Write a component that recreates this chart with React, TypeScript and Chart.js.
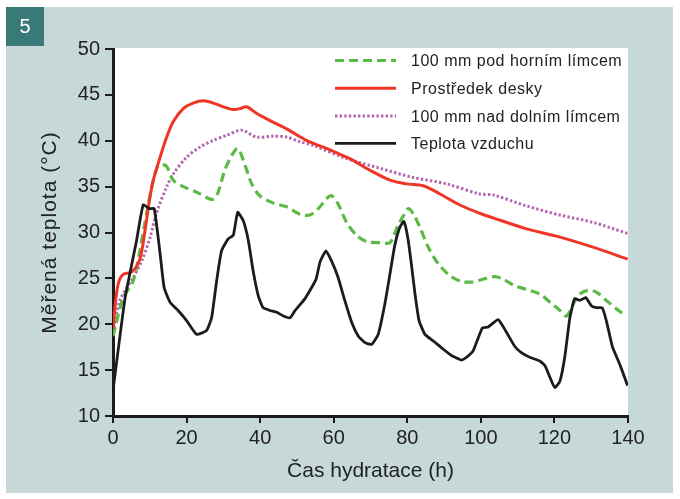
import React, { useEffect, useRef } from "react";
import { Chart, registerables } from "chart.js";

Chart.register(...registerables);

const FONT = '"Liberation Sans", Arial, Helvetica, sans-serif';

// Legend / series labels
const seriesLabels = [
  "100 mm pod horním límcem",
  "Prostředek desky",
  "100 mm nad dolním límcem",
  "Teplota vzduchu",
];

const xTitle = "Čas hydratace (h)";
const yTitle = "Měřená teplota (°C)";
const panelNumber = "5";

// 100 mm pod horním límcem (green dashed)
const greenHours = [0, 2.8, 5.5, 7.3, 9.1, 10.5, 11.9, 13.2, 14.6, 16.4, 19.1, 22.7, 26.8, 28.2, 30.4, 32.3, 33.9, 35.4, 37.7, 39.9, 43.6, 47.2, 50.8, 53.5, 55.8, 58.1, 59.4, 61.2, 63.5, 66.2, 68.9, 72.6, 75.3, 77.5, 79.3, 80.3, 81.6, 83.4, 85.7, 88.4, 91.6, 94.8, 97.5, 99.7, 103.8, 106.1, 109.2, 112.4, 116.0, 118.8, 121.5, 123.3, 125.1, 126.9, 129.2, 131.4, 134.1, 136.8, 139.5];
const greenTemps = [18.7, 22.9, 24.75, 28.0, 32.0, 34.9, 37.0, 37.4, 37.2, 35.7, 35.0, 34.4, 33.6, 34.0, 36.8, 38.4, 39.15, 37.9, 35.3, 34.0, 33.2, 32.8, 32.0, 31.9, 32.6, 33.7, 34.0, 33.1, 31.1, 29.7, 29.0, 28.9, 28.9, 30.8, 32.05, 32.6, 32.05, 30.6, 28.4, 26.6, 25.3, 24.65, 24.6, 24.8, 25.2, 24.9, 24.2, 23.8, 23.3, 22.4, 21.5, 20.9, 22.2, 23.3, 23.7, 23.5, 22.6, 21.7, 20.9];

// Prostředek desky (red)
const redHours = [0, 1.2, 2.6, 5.1, 7.3, 8.7, 9.9, 10.9, 12.8, 14.6, 16.4, 19.1, 21.8, 24.5, 27.3, 30.0, 32.7, 34.5, 36.3, 39.0, 42.7, 47.2, 52.6, 59.0, 64.4, 69.8, 75.3, 79.8, 84.3, 88.9, 94.3, 99.7, 103.3, 112.4, 121.5, 130.5, 139.9];
const redTemps = [19.5, 24.0, 25.4, 25.7, 27.1, 30.2, 33.5, 35.6, 38.2, 40.4, 42.1, 43.5, 44.1, 44.35, 44.1, 43.7, 43.4, 43.5, 43.7, 43.0, 42.2, 41.3, 40.05, 39.0, 38.05, 36.8, 35.7, 35.3, 35.1, 34.2, 33.0, 32.1, 31.6, 30.4, 29.5, 28.4, 27.1];

// 100 mm nad dolním límcem (purple dotted)
const purpleHours = [0, 1.9, 5.5, 7.8, 10.1, 11.9, 14.6, 16.4, 20.0, 23.6, 27.3, 30.9, 35.0, 39.0, 43.6, 47.2, 50.8, 54.4, 63.5, 72.6, 81.6, 90.7, 99.7, 103.3, 112.4, 121.5, 130.5, 139.9];
const purpleTemps = [19.1, 22.6, 25.1, 26.9, 29.5, 32.2, 35.0, 36.4, 38.2, 39.3, 40.05, 40.6, 41.15, 40.4, 40.5, 40.4, 39.9, 39.5, 38.05, 37.0, 36.0, 35.3, 34.2, 34.1, 32.9, 31.9, 31.1, 29.9];

// Teplota vzduchu (black)
const airHours = [0, 3.3, 6.4, 8.2, 9.9, 11.2, 12.8, 13.9, 15.5, 17.7, 20.0, 22.7, 25.4, 26.8, 28.2, 29.5, 31.3, 32.7, 33.9, 35.4, 36.8, 38.1, 39.5, 40.8, 42.7, 44.5, 46.3, 48.1, 49.5, 52.2, 54.0, 55.2, 56.3, 57.9, 59.4, 61.2, 63.0, 64.9, 66.7, 68.5, 70.3, 72.1, 73.9, 75.3, 76.6, 78.0, 79.1, 80.2, 81.1, 82.1, 83.2, 84.8, 87.0, 89.7, 92.0, 94.8, 96.1, 97.9, 100.4, 102.0, 104.7, 107.0, 109.2, 111.0, 113.3, 116.0, 117.4, 118.8, 120.1, 121.5, 122.8, 124.2, 125.5, 126.9, 128.5, 130.1, 131.4, 133.0, 134.1, 135.8, 137.8, 139.9];
const airTemps = [12.8, 22.9, 29.1, 33.0, 32.6, 32.6, 27.7, 24.0, 22.4, 21.5, 20.4, 18.9, 19.3, 20.7, 24.8, 28.0, 29.3, 29.7, 32.2, 31.3, 29.1, 25.8, 23.1, 21.8, 21.5, 21.3, 20.9, 20.7, 21.5, 22.8, 24.0, 24.9, 26.8, 28.0, 26.9, 25.1, 22.6, 20.2, 18.7, 18.0, 17.8, 18.9, 22.2, 25.5, 28.6, 30.6, 31.2, 29.3, 26.6, 23.3, 20.4, 18.9, 18.2, 17.3, 16.6, 16.1, 16.4, 17.1, 19.6, 19.7, 20.5, 19.1, 17.6, 16.9, 16.4, 16.0, 15.5, 14.2, 13.1, 13.8, 16.4, 20.7, 22.8, 22.6, 22.9, 22.0, 21.8, 21.8, 20.4, 17.5, 15.6, 13.3];

// Axis ranges / ticks
const xMin = 0, xMax = 140, xStep = 20;
const yMin = 10, yMax = 50, yStep = 5;

const COLORS = {
  green: "#5cb946",
  red: "#ee3526",
  purple: "#b566b0",
  black: "#1c1c1c",
  panel: "#c6d9d8",
  teal: "#397a79",
  text: "#222222",
};

const toPoints = (xs: number[], ys: number[]) => xs.map((x, i) => ({ x, y: ys[i] }));

const bgPlugin = {
  id: "bgPlugin",
  beforeDraw(chart: any) {
    const { ctx, chartArea } = chart;
    ctx.save();
    ctx.fillStyle = "#ffffff";
    ctx.fillRect(0, 0, chart.width, chart.height);
    ctx.fillStyle = COLORS.panel;
    ctx.fillRect(6, 7, 667, 486);
    ctx.fillStyle = "#ffffff";
    ctx.fillRect(chartArea.left, chartArea.top - 1, chartArea.right - chartArea.left, chartArea.bottom - chartArea.top + 1);
    ctx.fillStyle = COLORS.teal;
    ctx.fillRect(6, 7, 38, 39);
    ctx.fillStyle = "#ffffff";
    ctx.font = `20px ${FONT}`;
    ctx.textAlign = "center";
    ctx.textBaseline = "middle";
    ctx.fillText(panelNumber, 25, 27);
    ctx.restore();
  },
  afterDraw(chart: any) {
    const { ctx, chartArea } = chart;
    ctx.save();
    // axis titles
    ctx.fillStyle = COLORS.text;
    ctx.font = `21px ${FONT}`;
    ctx.textAlign = "center";
    ctx.textBaseline = "alphabetic";
    ctx.fillText(xTitle, (chartArea.left + chartArea.right) / 2, 477);
    ctx.save();
    ctx.translate(56, (chartArea.top + chartArea.bottom) / 2);
    ctx.rotate(-Math.PI / 2);
    (ctx as any).letterSpacing = "1px";
    ctx.fillText(yTitle, 0, 0);
    ctx.restore();

    // legend
    const ds = chart.data.datasets;
    const order = [0, 1, 2, 3];
    const ys = [60.5, 88.3, 116, 143.3];
    ctx.font = `16px ${FONT}`;
    (ctx as any).letterSpacing = "0.5px";
    ctx.textAlign = "left";
    ctx.textBaseline = "middle";
    order.forEach((idx, k) => {
      const d = ds[idx];
      const y = ys[k];
      ctx.save();
      ctx.strokeStyle = d.borderColor;
      ctx.lineWidth = d.borderWidth;
      ctx.setLineDash(d.borderDash || []);
      ctx.lineCap = "butt";
      ctx.beginPath();
      ctx.moveTo(335, y);
      ctx.lineTo(396, y);
      ctx.stroke();
      ctx.restore();
      ctx.fillStyle = COLORS.text;
      ctx.fillText(seriesLabels[idx], 411, y + 1.5);
    });
    ctx.restore();
  },
};

export default function App() {
  const ref = useRef<HTMLCanvasElement>(null);

  useEffect(() => {
    const canvas = ref.current;
    if (!canvas) return;
    const tickFont = { family: FONT, size: 20 };
    const chart = new Chart(canvas, {
      type: "line",
      data: {
        datasets: [
          {
            label: seriesLabels[0],
            data: toPoints(greenHours, greenTemps),
            borderColor: COLORS.green,
            borderWidth: 3.2,
            borderDash: [9, 5],
            pointRadius: 0,
            tension: 0.3,
            fill: false,
            order: 2,
          },
          {
            label: seriesLabels[1],
            data: toPoints(redHours, redTemps),
            borderColor: COLORS.red,
            borderWidth: 3,
            pointRadius: 0,
            tension: 0.3,
            fill: false,
            order: 1,
          },
          {
            label: seriesLabels[2],
            data: toPoints(purpleHours, purpleTemps),
            borderColor: COLORS.purple,
            borderWidth: 3,
            borderDash: [2.4, 2.2],
            pointRadius: 0,
            tension: 0.3,
            fill: false,
            order: 3,
          },
          {
            label: seriesLabels[3],
            data: toPoints(airHours, airTemps),
            borderColor: COLORS.black,
            borderWidth: 2.8,
            pointRadius: 0,
            tension: 0.15,
            fill: false,
            order: 0,
          },
        ],
      },
      options: {
        responsive: false,
        maintainAspectRatio: false,
        animation: false,
        devicePixelRatio: 1,
        layout: { padding: { left: 0, right: 52, top: 49, bottom: 0 } },
        plugins: {
          legend: { display: false },
          tooltip: { enabled: false },
        },
        scales: {
          x: {
            type: "linear",
            min: xMin,
            max: xMax,
            ticks: { stepSize: xStep, font: tickFont, color: COLORS.text, padding: 3, maxRotation: 0 },
            grid: { drawOnChartArea: false, tickLength: 7, color: COLORS.black, lineWidth: 2 },
            border: { display: true, color: COLORS.black, width: 3 },
            afterFit: (s: any) => {
              s.height = 83;
            },
          },
          y: {
            type: "linear",
            min: yMin,
            max: yMax,
            ticks: { stepSize: yStep, font: tickFont, color: COLORS.text, padding: 5 },
            grid: { drawOnChartArea: false, tickLength: 8, color: COLORS.black, lineWidth: 2 },
            border: { display: true, color: COLORS.black, width: 3 },
            afterFit: (s: any) => {
              s.width = 113;
            },
          },
        },
      },
      plugins: [bgPlugin],
    });
    return () => chart.destroy();
  }, []);

  return (
    <div style={{ position: "fixed", left: 0, top: 0, width: 680, height: 499 }}>
      <canvas ref={ref} width={680} height={499} style={{ display: "block", width: 680, height: 499 }} />
    </div>
  );
}
